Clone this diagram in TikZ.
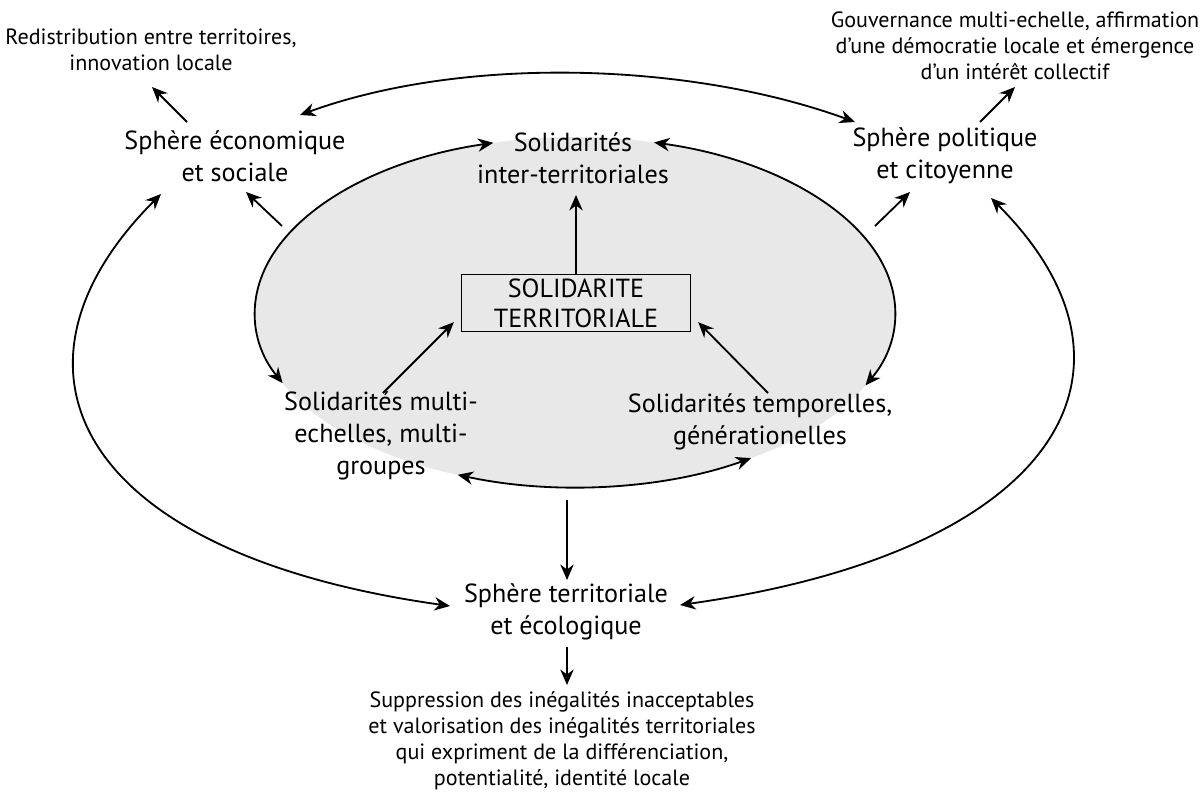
\documentclass[tikz,border=0pt]{standalone}
\usepackage{fontspec}
\setmainfont{PT Sans}
\usetikzlibrary{arrows.meta,calc}

\begin{document}
\begin{tikzpicture}[x=0.025cm,y=0.025cm,
    every node/.style={inner sep=0pt,align=center},
    big/.style={font=\fontsize{18.6}{22.8}\selectfont},
    small/.style={font=\fontsize{15.7}{18.5}\selectfont},
    boxed/.style={draw,line width=0.9pt,font=\fontsize{18.6}{21.3}\selectfont,
        minimum width=5.725cm,minimum height=1.425cm},
    arr/.style={-{Stealth[length=11pt,width=9.5pt]},line width=1.3pt},
    dbl/.style={{Stealth[length=11pt,width=9.5pt]}-{Stealth[length=11pt,width=9.5pt]},line width=1.3pt}]
\useasboundingbox (0,0) rectangle (1203,-791);

% grey ellipse
\coordinate (ell) at (575,-312);
\fill[black!9] (ell) ellipse [x radius=320, y radius=175];

% spheres and outcomes
\node[small] (redis) at (151,-50) {Redistribution entre territoires,\\innovation locale};
\node[big] (eco) at (235,-156) {Sphère économique\\et sociale};
\node[small] (gouv) at (1015,-46) {Gouvernance multi-echelle, affirmation\\d’une démocratie locale et émergence\\d’un intérêt collectif};
\node[big] (pol) at (945,-156) {Sphère politique\\et citoyenne};
\node[big] (terr) at (566,-612) {Sphère territoriale\\et écologique};
\node[small] (suppr) at (562,-741) {Suppression des inégalités inacceptables\\et valorisation des inégalités territoriales\\qui expriment de la différenciation,\\potentialité, identité locale};

% solidarities
\node[big] (inter) at (573,-158) {Solidarités\\inter-territoriales};
\node[boxed] (soli) at (576,-303) {SOLIDARITE\\TERRITORIALE};
\node[big] (multi) at (381,-436) {Solidarités multi-\\echelles, multi-\\groupes};
\node[big] (tempo) at (760,-422) {Solidarités temporelles,\\générationelles};

% straight arrows
\draw[arr] ($(eco)+(-48,34)$) -- ($(redis)+(1,-37)$);
\draw[arr] ($(pol)+(35,34)$) -- ($(gouv)+(0,-41)$);
\draw[arr] ($(ell)+(-293,86)$) -- ($(eco)+(11,-36)$);
\draw[arr] ($(ell)+(300,86)$) -- ($(pol)+(-35,-36)$);
\draw[arr] (soli.north) -- ($(inter)+(3,-37)$);
\draw[arr] ($(multi)+(2,43)$) -- ($(soli.south west)+(-7,10)$);
\draw[arr] ($(tempo)+(8,29)$) -- ($(soli.south east)+(7,10)$);
\draw[arr] ($(ell)+(-8,-188)$) -- ($(terr)+(1,32)$);
\draw[arr] ($(terr)+(1,-35)$) -- ($(suppr)+(5,56)$);

% curved links between spheres
\draw[dbl] ($(eco)+(65,41)$) .. controls +(20:175) and +(160:175) .. ($(pol)+(-90,34)$);
\draw[dbl] ($(eco)+(-74,-38)$) .. controls +(225:245) and +(172:380) .. ($(terr)+(-116,6)$);
\draw[dbl] ($(pol)+(46,-42)$) .. controls +(315:245) and +(8:380) .. ($(terr)+(114,7)$);

% arcs on the ellipse
\draw[dbl] ($(ell)+(104.8:320 and 175)$) arc[start angle=104.8,end angle=204,x radius=320,y radius=175];
\draw[dbl] ($(ell)+(75.7:320 and 175)$) arc[start angle=75.7,end angle=-24.8,x radius=320,y radius=175];
\draw[dbl] ($(ell)+(248.5:320 and 175)$) arc[start angle=248.5,end angle=303.4,x radius=320,y radius=175];
\end{tikzpicture}
\end{document}
